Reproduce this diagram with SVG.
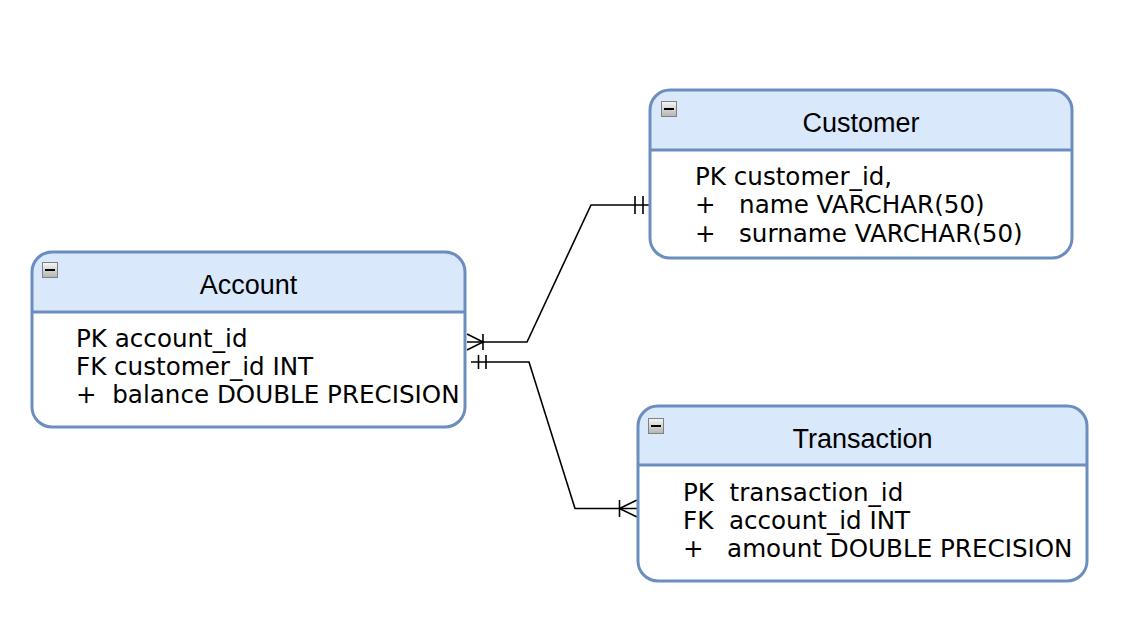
<svg xmlns="http://www.w3.org/2000/svg" width="1142" height="628" viewBox="0 0 1142 628">
  <style>
    .box { fill: #ffffff; stroke: none; }
    .head { fill: #dae8fc; stroke: none; }
    .outline { fill: none; stroke: #6c8ebf; stroke-width: 3; }
    .div { stroke: #6c8ebf; stroke-width: 3; }
    .title { font-family: "Liberation Sans", Arial, sans-serif; font-size: 27px; fill: #000000; text-anchor: middle; }
    .attr { font-family: "DejaVu Sans", Verdana, sans-serif; font-size: 24.6px; fill: #000000; white-space: pre; }
    .edge { fill: none; stroke: #000000; stroke-width: 1.6; }
    .iconbox { fill: url(#iconGrad); stroke: #808080; stroke-width: 1; }
    .icondash { fill: #000000; }
  </style>
  <defs>
    <linearGradient id="iconGrad" x1="0" y1="0" x2="0" y2="1">
      <stop offset="0" stop-color="#f6f6f6"/>
      <stop offset="1" stop-color="#b4b4b4"/>
    </linearGradient>
    <g id="collapse">
      <rect class="iconbox" x="0.5" y="0.5" width="15" height="15"/>
      <rect class="icondash" x="3" y="7" width="10" height="2"/>
    </g>
  </defs>
  <rect x="0" y="0" width="1142" height="628" fill="#ffffff"/>

  <g id="connectors">
    <!-- Account (many) to Customer (one) -->
    <path class="edge" d="M467,342 H527 L591,205 H650"/>
    <path class="edge" d="M467,334 L483,342 L467,350 M483,334 V350"/>
    <path class="edge" d="M635,196 V214 M643,196 V214"/>
    <!-- Account (one) to Transaction (many) -->
    <path class="edge" d="M471,362 H529 L575,508.5 H637"/>
    <path class="edge" d="M478.5,355 V369 M486,355 V369"/>
    <path class="edge" d="M619.5,500 V517 M637,500 L619.5,508.5 L637,517"/>
  </g>

  <g id="account">
    <rect class="box" x="32" y="252" width="433" height="175" rx="20"/>
    <path class="head" d="M32,312 V272 A20,20 0 0 1 52,252 H445 A20,20 0 0 1 465,272 V312 Z"/>
    <line class="div" x1="32" y1="312" x2="465" y2="312"/>
    <rect class="outline" x="32" y="252" width="433" height="175" rx="20"/>
    <use href="#collapse" x="42" y="262"/>
    <text class="title" x="248.5" y="294">Account</text>
    <text class="attr" xml:space="preserve" x="76" y="347">PK account_id</text>
    <text class="attr" xml:space="preserve" x="76" y="375">FK customer_id INT</text>
    <text class="attr" xml:space="preserve" x="76" y="403">+  balance DOUBLE PRECISION</text>
  </g>

  <g id="customer">
    <rect class="box" x="650" y="90" width="422" height="168" rx="20"/>
    <path class="head" d="M650,150 V110 A20,20 0 0 1 670,90 H1052 A20,20 0 0 1 1072,110 V150 Z"/>
    <line class="div" x1="650" y1="150" x2="1072" y2="150"/>
    <rect class="outline" x="650" y="90" width="422" height="168" rx="20"/>
    <use href="#collapse" x="661" y="101"/>
    <text class="title" x="861" y="131.5">Customer</text>
    <text class="attr" xml:space="preserve" x="695" y="185">PK customer_id,</text>
    <text class="attr" xml:space="preserve" x="695" y="213">+   name VARCHAR(50)</text>
    <text class="attr" xml:space="preserve" x="695" y="241.5">+   surname VARCHAR(50)</text>
  </g>

  <g id="transaction">
    <rect class="box" x="638" y="406" width="449" height="175" rx="20"/>
    <path class="head" d="M638,465 V426 A20,20 0 0 1 658,406 H1067 A20,20 0 0 1 1087,426 V465 Z"/>
    <line class="div" x1="638" y1="465" x2="1087" y2="465"/>
    <rect class="outline" x="638" y="406" width="449" height="175" rx="20"/>
    <use href="#collapse" x="648" y="418"/>
    <text class="title" x="862.5" y="448">Transaction</text>
    <text class="attr" xml:space="preserve" x="683" y="500.5">PK  transaction_id</text>
    <text class="attr" xml:space="preserve" x="683" y="529">FK  account_id INT</text>
    <text class="attr" xml:space="preserve" x="683" y="556.5">+   amount DOUBLE PRECISION</text>
  </g>
</svg>
